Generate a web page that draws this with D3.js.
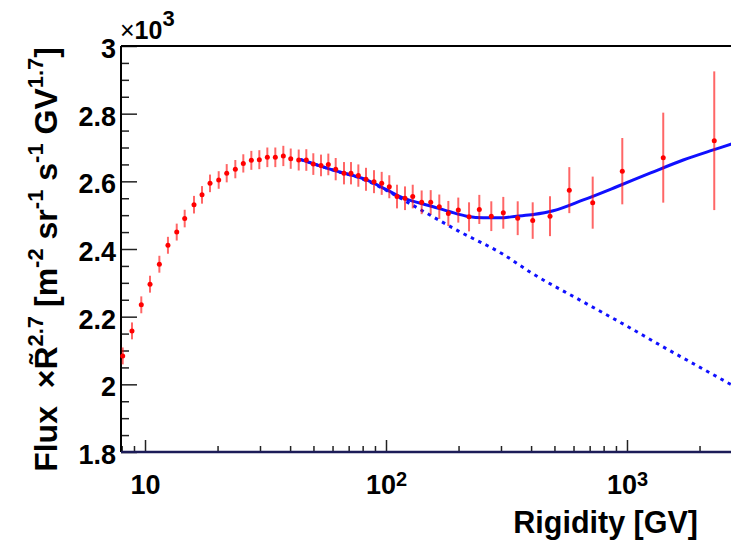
<!DOCTYPE html>
<html>
<head>
<meta charset="utf-8">
<script src="https://cdn.jsdelivr.net/npm/d3@7"></script>
<style>
  body { margin: 0; background: #fff; }
  svg { display: block; }
</style>
</head>
<body>
<svg id="chart" width="731" height="542"></svg>
<script>
// measured points (rigidity in GV, flux x R^2.7)
const rigidity = [8.08, 8.83, 9.65, 10.49, 11.47, 12.45, 13.54, 14.61, 15.97, 17.24,
  18.61, 20.22, 21.83, 23.70, 25.58, 27.62, 29.81, 32.18, 34.73, 37.49,
  40.24, 43.43, 46.70, 49.93, 53.74, 57.63, 61.84, 66.94, 71.57, 76.78,
  82.61, 89.18, 95.98, 103.2, 111.1, 119.9, 129.1, 140.6, 153.3, 166.4,
  181.4, 199.5, 221.1, 243.9, 273.5, 306.7, 352.0, 406.2, 479.3, 576.3,
  720.6, 956.1, 1414, 2302];
const flux = [2084, 2158, 2235, 2296, 2355, 2411, 2450, 2490, 2531, 2560,
  2594, 2604, 2624, 2636, 2653, 2662, 2664, 2671, 2671, 2675,
  2667, 2663, 2663, 2651, 2647, 2650, 2636, 2624, 2624, 2617,
  2606, 2599, 2594, 2584, 2555, 2550, 2555, 2538, 2538, 2525,
  2505, 2515, 2495, 2517, 2497, 2507, 2491, 2484, 2497, 2574,
  2537, 2630, 2670, 2720];
const fluxErr = [25, 25, 25, 25, 25, 25, 25, 26, 26, 26,
  26, 26, 27, 27, 27, 28, 28, 29, 29, 30,
  30, 31, 32, 32, 32, 32, 33, 33, 33, 33,
  34, 34, 34, 34, 35, 35, 35, 35, 36, 36,
  37, 37, 43, 43, 44, 47, 50, 54, 59, 68,
  77, 98, 133, 205];

// fit curve (solid) and single power law (dotted)
const fitR = [44.0, 60.4, 83.2, 100, 114.3, 157.1, 184.4, 216.2, 253.3, 297.2,
  348.5, 408.6, 494.6, 658.8, 906.6, 1246, 1712, 2281, 2701, 3200];
const fitFlux = [2665, 2633, 2604, 2576, 2555, 2525, 2510, 2497, 2492, 2492,
  2497, 2502, 2513, 2545, 2584, 2624, 2663, 2693, 2710, 2728];
const powR = [44.0, 60.4, 83.2, 100, 125, 200, 305, 400, 638, 1000, 1371, 2000, 2676, 3200];
const powFlux = [2665, 2633, 2602, 2574, 2535, 2453, 2385, 2330, 2249, 2172, 2116, 2051, 2001, 1970];

const yMajor = [1800, 2000, 2200, 2400, 2600, 2800, 3000];
const yMinor = d3.range(1850, 3000, 50).filter(v => v % 200 !== 0);
const xMajor = [10, 100, 1000];
const xMinor = [8, 9, 20, 30, 40, 50, 60, 70, 80, 90, 200, 300, 400, 500, 600, 700, 800, 900, 2000, 3000];

const FONT = "'Liberation Sans', Arial, Helvetica, sans-serif";
const padL = 121, padT = 46, padB = 452, padR = 760;

const svg = d3.select("#chart");
svg.append("rect").attr("width", 731).attr("height", 542).attr("fill", "#fff");

const x = d3.scaleLog().domain([7.95, 3564]).range([padL, padR]);
const y = d3.scaleLinear().domain([1800, 3000]).range([padB, padT]);

// axes
function styleAxis(g) {
  g.select(".domain").remove();
  g.attr("font-family", FONT).attr("font-size", 27).attr("font-weight", "bold");
  g.selectAll(".tick line").attr("stroke", "#222").attr("stroke-width", 1.5);
  g.selectAll(".tick text").attr("fill", "#000");
}

svg.append("g").attr("transform", `translate(${padL},0)`)
  .call(d3.axisLeft(y).tickValues(yMinor).tickSize(-8).tickFormat(""))
  .call(styleAxis);
const yg = svg.append("g").attr("transform", `translate(${padL},0)`)
  .call(d3.axisLeft(y).tickValues(yMajor).tickSize(-16).tickPadding(5)
    .tickFormat(d => d3.format("~g")(d / 1000)))
  .call(styleAxis);
yg.selectAll(".tick text").attr("dy", "0.42em");

svg.append("g").attr("transform", `translate(0,${padB})`)
  .call(d3.axisBottom(x).tickValues(xMinor).tickSize(-6).tickFormat(""))
  .call(styleAxis);
const xg = svg.append("g").attr("transform", `translate(0,${padB})`)
  .call(d3.axisBottom(x).tickValues(xMajor).tickSize(-12).tickPadding(23).tickFormat(""))
  .call(styleAxis);
xg.selectAll(".tick text").each(function (d) {
  const t = d3.select(this);
  const e = Math.round(Math.log10(d));
  if (e === 1) { t.text("10"); return; }
  t.append("tspan").text("10");
  t.append("tspan").attr("dy", -8).attr("font-size", 20).text(e);
});

// frame
svg.append("path")
  .attr("d", `M${padL},${padT}H${padR}M${padL},${padT}V${padB}`)
  .attr("stroke", "#000").attr("stroke-width", 2).attr("fill", "none");
svg.append("line")
  .attr("x1", padL).attr("x2", padR).attr("y1", padB).attr("y2", padB)
  .attr("stroke", "#1c1c58").attr("stroke-width", 2.5);

// curves
const line = d3.line().x(d => x(d[0])).y(d => y(d[1])).curve(d3.curveMonotoneX);
const plot = svg.append("g");
plot.append("path")
  .attr("d", line(d3.zip(powR, powFlux)))
  .attr("fill", "none").attr("stroke", "#1010ff").attr("stroke-width", 3)
  .attr("stroke-dasharray", "3.5,4.7");
plot.append("path")
  .attr("d", line(d3.zip(fitR, fitFlux)))
  .attr("fill", "none").attr("stroke", "#1010ff").attr("stroke-width", 3);

// data points with error bars
const pts = rigidity.map((r, i) => ({ r, f: flux[i], e: fluxErr[i] }));
plot.selectAll("line.err").data(pts).enter().append("line")
  .attr("class", "err")
  .attr("x1", d => x(d.r)).attr("x2", d => x(d.r))
  .attr("y1", d => y(d.f - d.e)).attr("y2", d => y(d.f + d.e))
  .attr("stroke", "#ff0000").attr("stroke-opacity", 0.6).attr("stroke-width", 2);
plot.selectAll("circle").data(pts).enter().append("circle")
  .attr("cx", d => x(d.r)).attr("cy", d => y(d.f)).attr("r", 2.5)
  .attr("fill", "#ff0000");

// exponent label
const ex = svg.append("text").attr("x", 120).attr("y", 39)
  .attr("font-family", FONT).attr("font-size", 25).attr("font-weight", "bold");
ex.append("tspan").attr("font-weight", "normal").text("×");
ex.append("tspan").text("10");
ex.append("tspan").attr("dy", -13).attr("font-size", 22).text("3");

// axis titles
svg.append("text").attr("x", 698).attr("y", 533).attr("text-anchor", "end")
  .attr("font-family", FONT).attr("font-size", 30.5).attr("font-weight", "bold")
  .text("Rigidity [GV]");

const yt = svg.append("text")
  .attr("transform", "translate(57,47) rotate(-90)")
  .attr("text-anchor", "end")
  .attr("font-family", FONT).attr("font-size", 32).attr("font-weight", "bold")
  .attr("xml:space", "preserve");
const parts = [["Flux  ×R\u0303", "2.7"], [" [m", "-2"], [" sr", "-1"], [" s", "-1"], [" GV", "1.7"], ["]", null]];
let back = 0;
parts.forEach(([base, sup]) => {
  yt.append("tspan").attr("dy", back).text(base);
  back = 0;
  if (sup) {
    yt.append("tspan").attr("dy", -14).attr("font-size", 22).text(sup);
    back = 14;
  }
});
</script>
</body>
</html>
